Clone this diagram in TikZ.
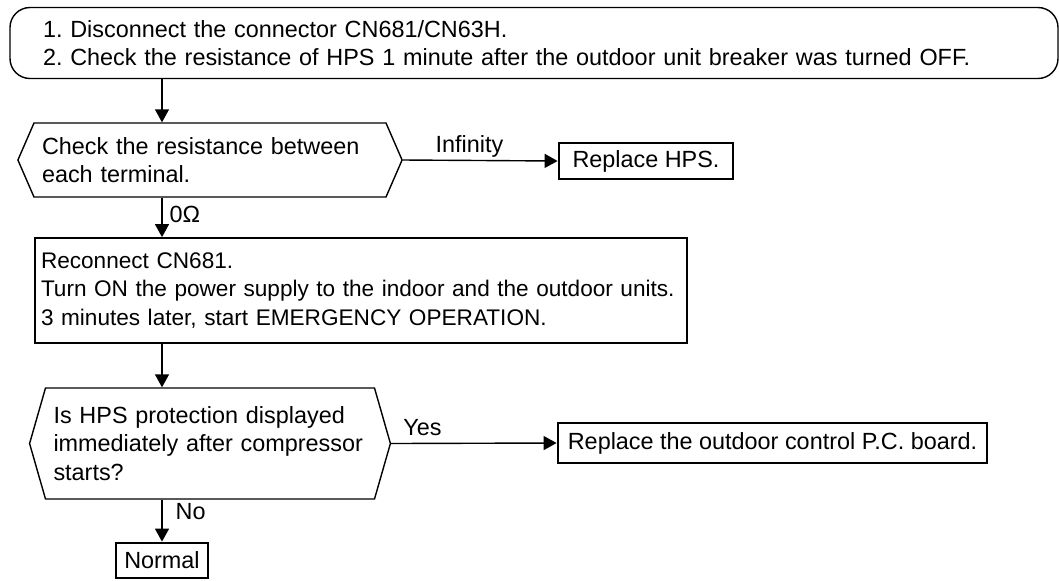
\documentclass[tikz,border=0pt]{standalone}
\usepackage{fontspec}
\setmainfont{Liberation Sans}
\usetikzlibrary{arrows.meta,positioning,shapes.symbols}
\frenchspacing

\begin{document}
\begin{tikzpicture}[x=0.5pt,y=-0.5pt,
  font=\fontsize{11.7}{14.25}\selectfont,
  box/.style={draw,line width=0.7pt,align=left,inner sep=0pt},
  res/.style={draw,line width=1.4pt,inner sep=0pt},
  dec/.style={draw,line width=0.7pt,shape=signal,signal to=west and east,
              align=left,inner xsep=4pt,inner ysep=0pt},
  lbl/.style={inner sep=3.5pt,text depth=0pt},
  e/.style={line width=0.7pt,-{Triangle[length=6.5pt,width=7pt]}}]
  \useasboundingbox (0,0) rectangle (1059,580);
  % boxes
  \node[box,rounded corners=10pt,text width=491pt,minimum width=524pt,minimum height=35.5pt] (start) at (534,43)
    {1. Disconnect the connector CN681/CN63H.\\2. Check the resistance of HPS 1 minute after the outdoor unit breaker was turned OFF.};
  \node[dec,text width=168pt,minimum height=37pt,signal pointer angle=133] (chk) at (210,160)
    {Check the resistance between\\each terminal.};
  \node[res,minimum width=87pt,minimum height=18pt] (hps) at (646,161) {Replace HPS.};
  \node[box,line width=0.9pt,font=\fontsize{11.3}{14.25}\selectfont,text width=320pt,inner xsep=3pt,minimum height=52.5pt] (rec) at (361,290.5)
    {Reconnect CN681.\\Turn ON the power supply to the indoor and the outdoor units.\\3 minutes later, start EMERGENCY OPERATION.};
  \node[dec,text width=156.5pt,minimum height=55.5pt,signal pointer angle=148] (prot) at (210,443.5)
    {Is HPS protection displayed\\immediately after compressor\\starts?};
  \node[res,minimum width=214.5pt,minimum height=20pt] (pcb) at (772.5,443) {Replace the outdoor control P.C. board.};
  \node[res,minimum width=46pt,minimum height=17.5pt] (norm) at (162,560.5) {Normal};
  % arrows
  \draw[e] (start.south -| norm) -- (chk.north -| norm);
  \draw[e] (chk.east) -- node[lbl,above,pos=0.43]{Infinity} (hps.west);
  \draw[e] (chk.south -| norm) -- node[lbl,right,pos=0.41]{0Ω} (rec.north -| norm);
  \draw[e] (rec.south -| norm) -- (prot.north -| norm);
  \draw[e] (prot.east) -- node[lbl,above,pos=0.19]{Yes} (pcb.west);
  \draw[e] (prot.south -| norm) -- node[lbl,right,pos=0.28,xshift=3pt]{No} (norm);
\end{tikzpicture}
\end{document}
